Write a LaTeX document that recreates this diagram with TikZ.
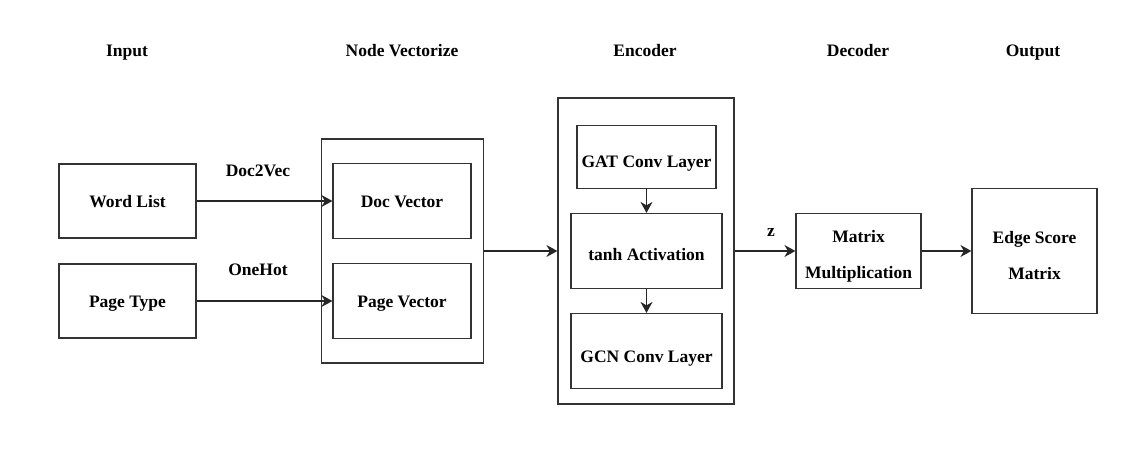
\documentclass[tikz,border=0pt]{standalone}
\usepackage{fontspec}
\setmainfont{Liberation Serif}
\usetikzlibrary{arrows.meta}
\tikzset{
  txt/.style={font=\bfseries\fontsize{17.5}{36}\selectfont},
  box/.style={draw=black!80, line width=1.2pt, rectangle, inner sep=0pt, align=center,
    txt, text height=14pt, text depth=1.5pt},
  lowtext/.style={text height=22pt, text depth=0pt},
  midtext/.style={text height=20pt, text depth=0pt},
  twoline/.style={txt, align=center, inner sep=0pt, yshift=-5pt},
  lbl/.style={inner sep=0pt, txt, text height=12pt, text depth=4pt},
  conn/.style={draw=black!85, line width=1.3pt, -{Stealth[length=11pt,width=12pt,inset=3.5pt]}},
}
\begin{document}
\begin{tikzpicture}[x=1pt,y=-1pt]
\useasboundingbox (0,0) rectangle (1144,449);
% headers
\node[lbl] (hIn) at (127,53) {Input};
\node[lbl] (hNV) at (402,53) {Node Vectorize};
\node[lbl] (hEnc) at (645,53) {Encoder};
\node[lbl] (hDec) at (858,53) {Decoder};
\node[lbl] (hOut) at (1033,53) {Output};
% input
\node[box, minimum width=137pt, minimum height=74pt] (word) at (127.5,201) {Word List};
\node[box, minimum width=137pt, minimum height=74pt] (page) at (127.5,301) {Page Type};
% node vectorize
\node[box, minimum width=162pt, minimum height=224pt] (nv) at (402.5,251) {};
\node[box, minimum width=138pt, minimum height=75pt] (docv) at (402,201) {Doc Vector};
\node[box, minimum width=138pt, minimum height=75pt] (pagev) at (402,301) {Page Vector};
% encoder
\node[box, minimum width=176pt, minimum height=306pt] (enc) at (646,251) {};
\node[box, lowtext, minimum width=139pt, minimum height=63pt] (gat) at (646.5,157) {GAT Conv Layer};
\node[box, midtext, minimum width=151pt, minimum height=75pt] (tanh) at (646.5,251) {tanh Activation};
\node[box, lowtext, minimum width=151pt, minimum height=75pt] (gcn) at (646.5,351) {GCN Conv Layer};
% decoder
\node[box, minimum width=125pt, minimum height=75pt,
  label={[twoline]center:Matrix\\Multiplication}] (mat) at (858.5,251) {};
% output
\node[box, minimum width=125pt, minimum height=125pt,
  label={[twoline]center:Edge Score\\Matrix}] (edge) at (1034.5,251) {};
% labels
\node[lbl] (l1) at (258,173) {Doc2Vec};
\node[lbl] (l2) at (258,272) {OneHot};
\node[lbl] (lz) at (771,233) {z};
% connectors
\draw[conn] (word.east) -- (docv.west);
\draw[conn] (page.east) -- (pagev.west);
\draw[conn] (nv.east) -- (enc.west);
\draw[conn] (gat.south) -- (tanh.north);
\draw[conn] (tanh.south) -- (gcn.north);
\draw[conn] (enc.east) -- (mat.west);
\draw[conn] (mat.east) -- (edge.west);
\end{tikzpicture}
\end{document}
